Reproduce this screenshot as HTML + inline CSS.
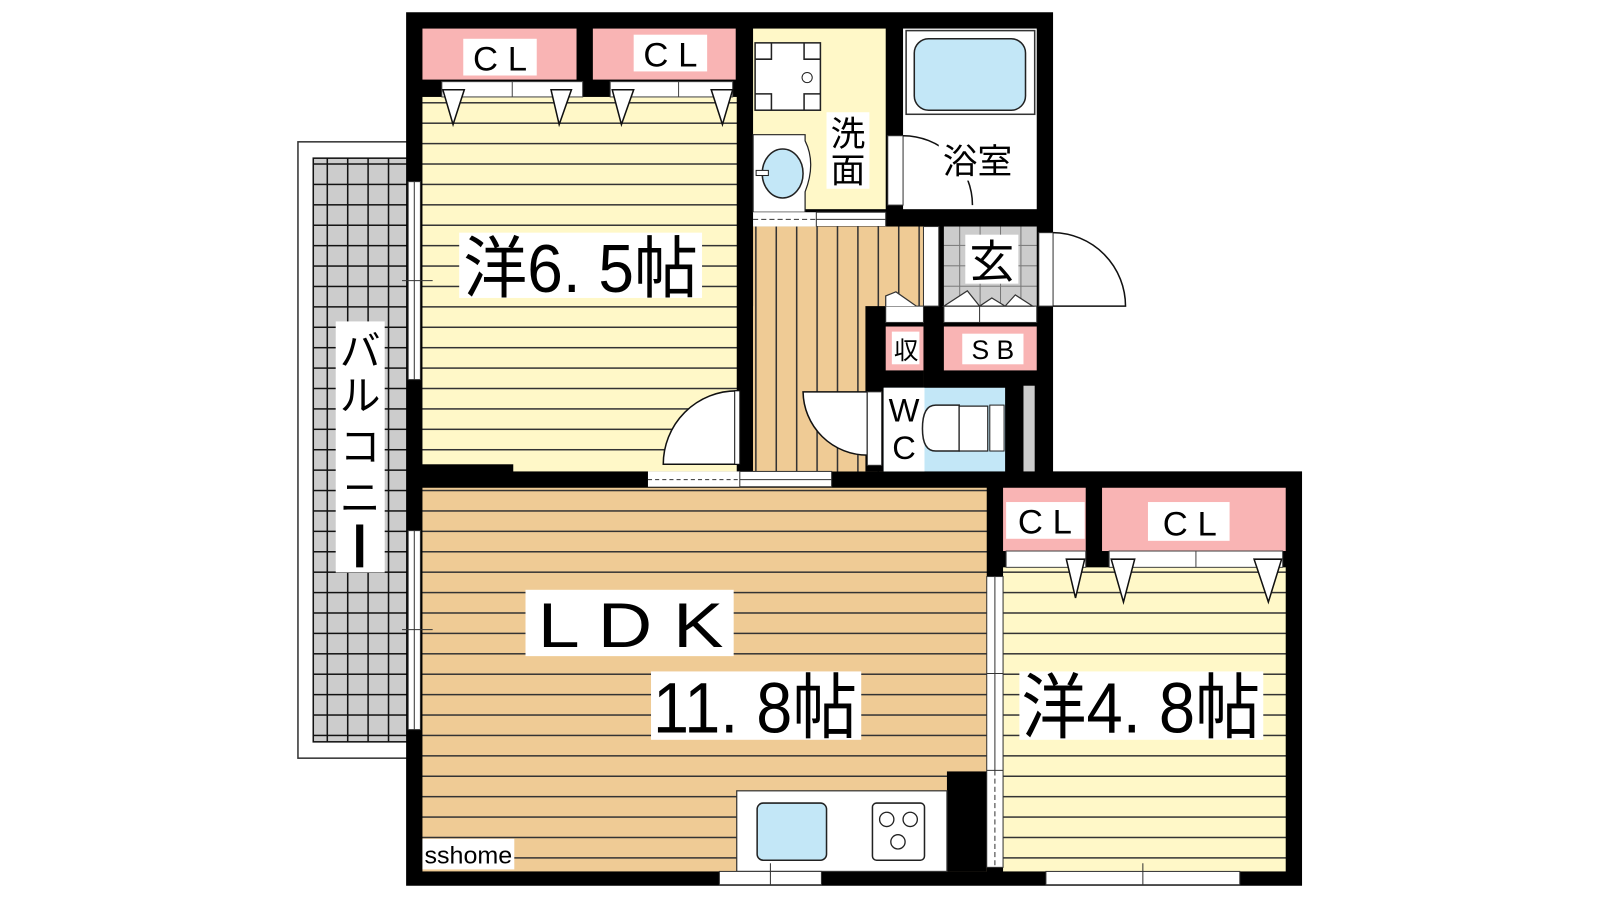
<!DOCTYPE html>
<html><head><meta charset="utf-8"><style>
html,body{margin:0;padding:0;background:#fff;}
svg{display:block}
text{font-family:"Liberation Sans","Noto Sans CJK JP",sans-serif;fill:#000}
</style></head><body>
<svg width="1600" height="900" viewBox="0 0 1568 882" xmlns="http://www.w3.org/2000/svg">
<defs>
<pattern id="hy" width="40" height="20" patternUnits="userSpaceOnUse"><rect width="40" height="20" fill="#fff8c8"/><line x1="0" y1="0.75" x2="40" y2="0.75" stroke="#333" stroke-width="1.5"/></pattern>
<pattern id="ht" width="40" height="20" patternUnits="userSpaceOnUse"><rect width="40" height="20" fill="#efcb95"/><line x1="0" y1="0.75" x2="40" y2="0.75" stroke="#333" stroke-width="1.5"/></pattern>
<pattern id="vt" width="20" height="40" patternUnits="userSpaceOnUse"><rect width="20" height="40" fill="#efcb95"/><line x1="0.75" y1="0" x2="0.75" y2="40" stroke="#333" stroke-width="1.5"/></pattern>
<pattern id="gr" width="20" height="20" patternUnits="userSpaceOnUse"><rect width="20" height="20" fill="#ccc"/><path d="M0 0.75H20M0.75 0V20" stroke="#111" stroke-width="1.5"/></pattern>
<pattern id="gr2" width="20" height="20" patternUnits="userSpaceOnUse"><rect width="20" height="20" fill="#ccc"/><path d="M0 0.5H20M0.5 0V20" stroke="#777" stroke-width="1"/></pattern>
</defs>

<!-- balcony -->
<rect x="292" y="139" width="110" height="604" fill="#fff" stroke="#333" stroke-width="1.5"/>
<rect x="307" y="155" width="95" height="572" fill="url(#gr)" stroke="#111" stroke-width="1.5"/>
<rect x="329" y="315" width="48" height="246" fill="#fff"/>
<text x="353" y="358" font-size="40" text-anchor="middle">バ</text>
<text x="353" y="402" font-size="40" text-anchor="middle">ル</text>
<text x="353" y="452" font-size="40" text-anchor="middle">コ</text>
<text x="353" y="502" font-size="40" text-anchor="middle">ニ</text>
<rect x="349" y="514" width="7" height="42" fill="#000"/>

<!-- building black -->
<polygon points="398,12 1032,12 1032,462 1276,462 1276,868 398,868" fill="#000"/>

<!-- 6.5 room -->
<rect x="414" y="28" width="151" height="50" fill="#f9b4b4"/>
<rect x="581" y="28" width="140" height="50" fill="#f9b4b4"/>
<rect x="454" y="38" width="72" height="36" fill="#fff"/>
<text x="490" y="69" font-size="34" text-anchor="middle">C L</text>
<rect x="621" y="34" width="72" height="36" fill="#fff"/>
<text x="657" y="65" font-size="34" text-anchor="middle">C L</text>
<rect x="414" y="95" width="308" height="360" fill="url(#hy)"/>
<rect x="503" y="451" width="219" height="11" fill="#fff8c8"/>
<rect x="433" y="80" width="138" height="15" fill="#fff" stroke="#444"/>
<line x1="502" y1="80" x2="502" y2="95" stroke="#444"/>
<rect x="598" y="80" width="120" height="15" fill="#fff" stroke="#444"/>
<line x1="665" y1="80" x2="665" y2="95" stroke="#444"/>
<g fill="#fff" stroke="#111" stroke-width="1.5">
<polygon points="434,88 455,88 444,122"/><polygon points="540,88 560,88 548,122"/>
<polygon points="600,88 621,88 609,122"/><polygon points="697,88 718,88 708,122"/>
</g>
<rect x="450" y="228" width="238" height="64" fill="#fff"/>
<text x="454" y="286" font-size="66" textLength="230" lengthAdjust="spacingAndGlyphs">洋6. 5帖</text>
<!-- window left -->
<rect x="400" y="178" width="12" height="194" fill="#fff" stroke="#333"/>
<line x1="406" y1="178" x2="406" y2="372" stroke="#333"/>
<line x1="394" y1="275" x2="424" y2="275" stroke="#333"/>
<!-- door 6.5 -->
<path d="M722 383 A72 72 0 0 0 650 455 L722 455 Z" fill="#fff" stroke="#111" stroke-width="1.5"/>
<rect x="720" y="383" width="5" height="72" fill="#fff" stroke="#111"/>

<!-- 洗面 -->
<rect x="738" y="28" width="130" height="177" fill="#fff8c8"/>
<rect x="740" y="42" width="64" height="66" fill="#fff" stroke="#222" stroke-width="1.5"/>
<path d="M756 42V58H740M788 42V58H804M756 108V92H740M788 108V92H804" fill="none" stroke="#222" stroke-width="1.5"/>
<circle cx="791" cy="76" r="5" fill="#fff" stroke="#222"/>
<path d="M738 132 H789 V138 Q800 160 789 188 V208 H738 Z" fill="#fff" stroke="#222" stroke-width="1.2"/>
<ellipse cx="767" cy="170" rx="20" ry="24" fill="#c3e7f7" stroke="#222" stroke-width="1.5"/>
<rect x="741" y="167" width="12" height="5" fill="#fff" stroke="#222"/>
<rect x="810" y="110" width="42" height="75" fill="#fff"/>
<text x="831" y="143" font-size="34" text-anchor="middle">洗</text>
<text x="831" y="179" font-size="34" text-anchor="middle">面</text>
<!-- sliding door 洗面-hall -->
<rect x="738" y="208" width="130" height="14" fill="#fff"/>
<line x1="738" y1="215" x2="800" y2="215" stroke="#333" stroke-dasharray="5 3"/>
<rect x="800" y="208" width="68" height="14" fill="#fff" stroke="#333"/>
<line x1="800" y1="215" x2="868" y2="215" stroke="#333"/>

<!-- bath -->
<rect x="885" y="28" width="131" height="177" fill="#fff"/>
<rect x="888" y="30" width="126" height="82" fill="#fff" stroke="#333" stroke-width="1.5"/>
<rect x="896" y="38" width="109" height="70" rx="14" fill="#c3e7f7" stroke="#222" stroke-width="1.5"/>
<rect x="870" y="133" width="15" height="68" fill="#fff" stroke="#333"/>
<path d="M885 133 A68 68 0 0 1 953 201" fill="none" stroke="#111" stroke-width="1.5"/>
<rect x="920" y="133" width="78" height="44" fill="#fff"/>
<text x="958" y="170" font-size="34" text-anchor="middle">浴室</text>

<!-- hall -->
<rect x="738" y="222" width="167" height="240" fill="url(#vt)"/>
<rect x="848" y="300" width="57" height="162" fill="#000"/>
<rect x="738" y="300" width="110" height="162" fill="url(#vt)"/>
<rect x="905" y="222" width="15" height="78" fill="#fff" stroke="#333"/>
<!-- 玄 -->
<rect x="925" y="222" width="91" height="78" fill="url(#gr2)"/>
<rect x="946" y="230" width="52" height="48" fill="#fff"/>
<text x="972" y="272" font-size="44" text-anchor="middle">玄</text>
<rect x="1018" y="228" width="14" height="72" fill="#fff" stroke="#333"/>
<path d="M1032 228 A72 72 0 0 1 1103 300 L1032 300" fill="none" stroke="#111" stroke-width="1.5"/>
<!-- shoe boxes -->
<rect x="868" y="300" width="37" height="16" fill="#fff" stroke="#333"/>
<path d="M868 300 V290 L878 286 L898 300" fill="#fff" stroke="#333" stroke-width="1.2"/>
<rect x="925" y="300" width="91" height="16" fill="#fff" stroke="#333"/>
<line x1="960" y1="300" x2="960" y2="316" stroke="#333"/>
<path d="M925 300 L948 285 L960 300 L972 292 L985 300 L995 289 L1012 300 Z" fill="#fff" stroke="#333" stroke-width="1.2"/>
<rect x="868" y="320" width="37" height="43" fill="#f9b4b4"/>
<rect x="874" y="325" width="27" height="32" fill="#fff"/>
<text x="888" y="352" font-size="24" text-anchor="middle">収</text>
<rect x="925" y="320" width="91" height="43" fill="#f9b4b4"/>
<rect x="943" y="327" width="60" height="30" fill="#fff"/>
<text x="973" y="352" font-size="26" text-anchor="middle">S B</text>
<!-- WC -->
<rect x="866" y="380" width="119" height="82" fill="#c3e7f7"/>
<rect x="866" y="380" width="40" height="82" fill="#fff"/>
<text x="886" y="413" font-size="32" text-anchor="middle">W</text>
<text x="886" y="450" font-size="32" text-anchor="middle">C</text>
<path d="M940 397 H917 Q904 397 904 420 Q904 442 917 442 H940 Z" fill="#fff" stroke="#222" stroke-width="1.5"/>
<rect x="940" y="398" width="28" height="44" fill="#fff" stroke="#222" stroke-width="1.2"/>
<rect x="970" y="397" width="14" height="45" fill="#fff" stroke="#222"/>
<rect x="1003" y="378" width="11" height="84" fill="#ccc"/>
<!-- WC door -->
<path d="M787 384 H850 V446 A63 63 0 0 1 787 384 Z" fill="#fff" stroke="#111" stroke-width="1.5"/>
<rect x="850" y="384" width="14" height="72" fill="#fff" stroke="#333"/>

<!-- door/wall between 6.5 & LDK -->
<rect x="635" y="462" width="180" height="15" fill="#fff"/>
<line x1="635" y1="470" x2="725" y2="470" stroke="#333" stroke-dasharray="4 3"/>
<rect x="725" y="462" width="90" height="15" fill="#fff" stroke="#333"/>
<line x1="725" y1="470" x2="815" y2="470" stroke="#333"/>

<!-- LDK -->
<rect x="414" y="478" width="553" height="376" fill="url(#ht)"/>
<rect x="928" y="756" width="39" height="98" fill="#000"/>
<rect x="722" y="775" width="206" height="79" fill="#fff" stroke="#333" stroke-width="1.2"/>
<rect x="742" y="787" width="68" height="56" rx="6" fill="#c3e7f7" stroke="#222" stroke-width="1.5"/>
<rect x="855" y="787" width="51" height="56" rx="4" fill="#fff" stroke="#222" stroke-width="1.5"/>
<g fill="#fff" stroke="#222" stroke-width="1.3">
<circle cx="869" cy="803" r="7"/><circle cx="892" cy="803" r="7"/><circle cx="880" cy="825" r="7"/>
</g>
<rect x="705" y="854" width="100" height="13" fill="#fff" stroke="#333"/>
<line x1="755" y1="846" x2="755" y2="867" stroke="#333"/>
<rect x="400" y="520" width="12" height="195" fill="#fff" stroke="#333"/>
<line x1="406" y1="520" x2="406" y2="715" stroke="#333"/>
<line x1="394" y1="617" x2="424" y2="617" stroke="#333"/>
<rect x="515" y="578" width="204" height="65" fill="#fff"/>
<text x="527" y="634" font-size="62" textLength="182" lengthAdjust="spacingAndGlyphs">L D K</text>
<rect x="638" y="658" width="206" height="67" fill="#fff"/>
<text x="640" y="718" font-size="70" textLength="200" lengthAdjust="spacingAndGlyphs">11. 8帖</text>
<rect x="414" y="822" width="90" height="30" fill="#fff"/>
<text x="416" y="846" font-size="24" textLength="86" lengthAdjust="spacingAndGlyphs">sshome</text>

<!-- 4.8 room -->
<rect x="983" y="478" width="81" height="62" fill="#f9b4b4"/>
<rect x="1080" y="478" width="180" height="62" fill="#f9b4b4"/>
<rect x="986" y="492" width="77" height="36" fill="#fff"/>
<text x="1024" y="523" font-size="34" text-anchor="middle">C L</text>
<rect x="1125" y="492" width="80" height="38" fill="#fff"/>
<text x="1166" y="525" font-size="34" text-anchor="middle">C L</text>
<rect x="983" y="556" width="277" height="298" fill="url(#hy)"/>
<rect x="986" y="540" width="78" height="16" fill="#fff" stroke="#444"/>
<rect x="1087" y="540" width="170" height="16" fill="#fff" stroke="#444"/>
<line x1="1172" y1="540" x2="1172" y2="556" stroke="#444"/>
<g fill="#fff" stroke="#111" stroke-width="1.5">
<polygon points="1045,548 1063,548 1054,586"/><polygon points="1089,548 1112,548 1101,590"/>
<polygon points="1229,548 1256,548 1243,590"/>
</g>
<rect x="967" y="565" width="16" height="285" fill="#fff" stroke="#333"/>
<line x1="975" y1="565" x2="975" y2="755" stroke="#333"/>
<line x1="975" y1="755" x2="975" y2="850" stroke="#333" stroke-dasharray="5 3"/>
<line x1="967" y1="660" x2="983" y2="660" stroke="#333"/>
<line x1="967" y1="755" x2="983" y2="755" stroke="#333"/>
<rect x="1025" y="854" width="190" height="13" fill="#fff" stroke="#333"/>
<line x1="1120" y1="846" x2="1120" y2="867" stroke="#333"/>
<rect x="999" y="658" width="239" height="67" fill="#fff"/>
<text x="1001" y="718" font-size="70" textLength="234" lengthAdjust="spacingAndGlyphs">洋4. 8帖</text>
</svg>
</body></html>
